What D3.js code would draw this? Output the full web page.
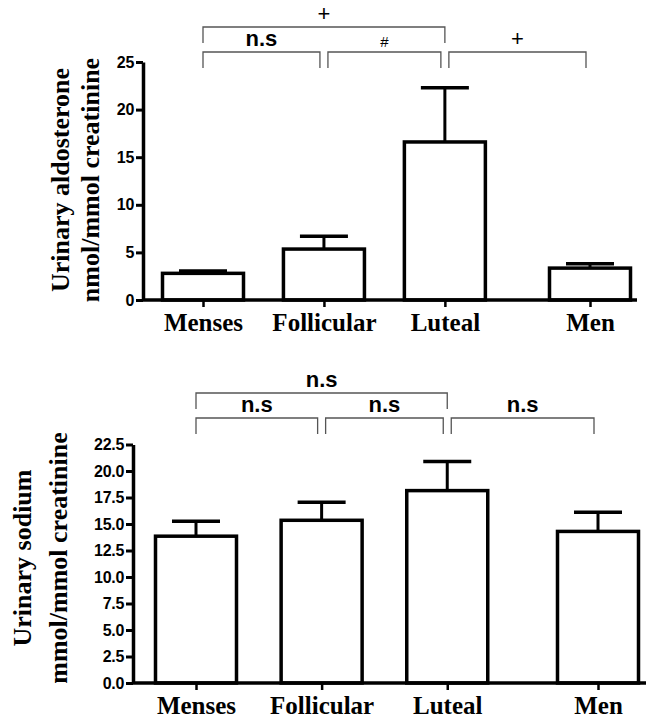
<!DOCTYPE html>
<html>
<head>
<meta charset="utf-8">
<script src="https://cdnjs.cloudflare.com/ajax/libs/d3/7.8.5/d3.min.js"></script>
<style>
  body { margin: 0; background: #fff; }
</style>
</head>
<body>
<script>
// data (mean and SEM)
var categories = ["Menses", "Follicular", "Luteal", "Men"];
var aldoMean = [2.8, 5.35, 16.6, 3.35];
var aldoSem = [0.25, 1.35, 5.7, 0.45];
var sodiumMean = [13.85, 15.35, 18.15, 14.3];
var sodiumSem = [1.4, 1.7, 2.75, 1.8];
var aldoTicks = [0, 5, 10, 15, 20, 25];
var sodiumTicks = [0, 2.5, 5, 7.5, 10, 12.5, 15, 17.5, 20, 22.5];

// comparisons: [from, to, level, label]
var aldoStats = [[0, 2, 1, "+"], [0, 1, 0, "n.s"], [1, 2, 0, "#"], [2, 3, 0, "+"]];
var sodiumStats = [[0, 2, 1, "n.s"], [0, 1, 0, "n.s"], [1, 2, 0, "n.s"], [2, 3, 0, "n.s"]];

// Men sits a bit further out than an even step
var slots = [0, 1, 2, 3.2];

var svg = d3.select("body").append("svg")
  .attr("width", 646)
  .attr("height", 720);

function drawPanel(opts) {
  var g = svg.append("g");

  var y = d3.scaleLinear().domain(opts.yDomain).range([opts.yBottom, opts.yTop]);
  var xLin = d3.scaleLinear().domain([0, 3.2]).range(opts.xRange);
  var x = d3.scaleOrdinal().domain(categories).range(slots.map(function(s) { return xLin(s) }));
  var barW = 81;

  // y axis
  var yAxis = g.append("g")
    .attr("transform", "translate(" + opts.axisX + ",0)")
    .call(d3.axisLeft(y).tickValues(opts.ticks).tickFormat(opts.fmt).tickSize(7).tickSizeOuter(0).tickPadding(2));
  yAxis.select(".domain").attr("stroke", "#000").attr("stroke-width", 3.5);
  yAxis.selectAll(".tick line").attr("stroke", "#000").attr("stroke-width", 3);
  yAxis.selectAll(".tick text")
    .attr("fill", "#000")
    .style("font-family", "'Liberation Sans', Arial, sans-serif")
    .style("font-weight", "bold")
    .style("font-size", "16px")
    .style("letter-spacing", "-0.3px");

  // bars
  g.selectAll("rect.bar")
    .data(opts.mean)
    .enter().append("rect")
    .attr("class", "bar")
    .attr("x", function(d, i) { return x(categories[i]) - barW / 2 })
    .attr("y", function(d) { return y(d) })
    .attr("width", barW)
    .attr("height", function(d) { return y(0) - y(d) })
    .attr("fill", "#fff")
    .attr("stroke", "#000")
    .attr("stroke-width", 3.5);

  // error bars, upper side only
  var eb = g.selectAll("g.err")
    .data(opts.mean)
    .enter().append("g")
    .attr("class", "err");
  eb.append("line")
    .attr("x1", function(d, i) { return x(categories[i]) })
    .attr("x2", function(d, i) { return x(categories[i]) })
    .attr("y1", function(d) { return y(d) })
    .attr("y2", function(d, i) { return y(d + opts.sem[i]) })
    .attr("stroke", "#000")
    .attr("stroke-width", 3);
  eb.append("line")
    .attr("x1", function(d, i) { return x(categories[i]) - 24 })
    .attr("x2", function(d, i) { return x(categories[i]) + 24 })
    .attr("y1", function(d, i) { return y(d + opts.sem[i]) })
    .attr("y2", function(d, i) { return y(d + opts.sem[i]) })
    .attr("stroke", "#000")
    .attr("stroke-width", 3.5);

  // x axis
  g.append("line")
    .attr("x1", opts.axisX - 1)
    .attr("x2", opts.xEnd)
    .attr("y1", y(0))
    .attr("y2", y(0))
    .attr("stroke", "#000")
    .attr("stroke-width", 3.5);
  var xAxis = g.append("g")
    .attr("transform", "translate(0," + (y(0) + 1) + ")")
    .call(d3.axisBottom(x).tickSize(6).tickPadding(4));
  xAxis.select(".domain").remove();
  xAxis.selectAll(".tick line").attr("stroke", "#000").attr("stroke-width", 2.5);
  xAxis.selectAll(".tick text")
    .attr("fill", "#000")
    .attr("dy", "0.8em")
    .style("font-family", "'Liberation Serif', 'Times New Roman', serif")
    .style("font-weight", "bold")
    .style("font-size", "25px");

  // significance brackets
  opts.stats.forEach(function(s) {
    var a = x(categories[s[0]]), b = x(categories[s[1]]);
    if (s[2] == 0) { a += (s[0] > 0 ? 4 : 0); b -= 4; }
    var by = opts.bracketY[s[2]];
    g.append("path")
      .attr("d", "M" + a + "," + (by + 16) + "V" + by + "H" + b + "V" + (by + 16))
      .attr("fill", "none")
      .attr("stroke", "#555")
      .attr("stroke-width", 1.3);
    var small = s[3] == "#";
    g.append("text")
      .attr("x", (a + b) / 2)
      .attr("y", by - (small ? 5 : 6))
      .attr("text-anchor", "middle")
      .style("font-family", "'Liberation Sans', Arial, sans-serif")
      .style("font-weight", s[3] == "n.s" ? "bold" : "normal")
      .style("font-size", small ? "15px" : "22px")
      .text(s[3]);
  });

  // rotated y title, two lines
  opts.title.forEach(function(t, i) {
    g.append("text")
      .attr("transform", "translate(" + opts.titleX[i] + "," + opts.titleY + ") rotate(-90)")
      .attr("text-anchor", "middle")
      .style("font-family", "'Liberation Serif', 'Times New Roman', serif")
      .style("font-weight", "bold")
      .style("font-size", "26px")
      .text(t);
  });
}

drawPanel({
  mean: aldoMean, sem: aldoSem, ticks: aldoTicks, fmt: d3.format("d"),
  yDomain: [0, 25], yBottom: 300, yTop: 62,
  xRange: [203, 590], axisX: 143, xEnd: 637,
  stats: aldoStats, bracketY: [52, 27],
  title: ["Urinary aldosterone", "nmol/mmol creatinine"], titleX: [69, 99], titleY: 180
});

drawPanel({
  mean: sodiumMean, sem: sodiumSem, ticks: sodiumTicks, fmt: d3.format(".1f"),
  yDomain: [0, 22.5], yBottom: 683, yTop: 444.5,
  xRange: [196, 598], axisX: 133, xEnd: 646,
  stats: sodiumStats, bracketY: [418, 393],
  title: ["Urinary sodium", "mmol/mmol creatinine"], titleX: [31, 67], titleY: 558
});
</script>
</body>
</html>
